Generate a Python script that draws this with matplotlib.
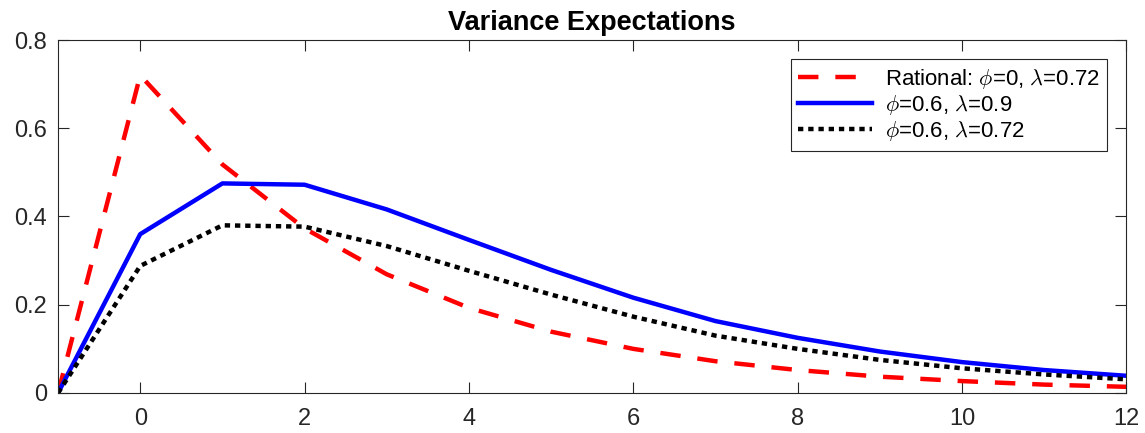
import matplotlib
matplotlib.use('Agg')
import matplotlib.pyplot as plt

# horizonte (periodos) y expectativas de varianza
horizon = [-1, 0, 1, 2, 3, 4, 5, 6, 7, 8, 9, 10, 11, 12]
rational = [0.0, 0.720, 0.518, 0.373, 0.269, 0.193, 0.139, 0.100, 0.072,
            0.052, 0.037, 0.027, 0.019, 0.014]
phi06_lam09 = [0.0, 0.360, 0.475, 0.472, 0.416, 0.347, 0.279, 0.216, 0.163,
               0.125, 0.094, 0.070, 0.052, 0.039]
phi06_lam072 = [0.0, 0.288, 0.380, 0.377, 0.333, 0.277, 0.223, 0.173, 0.130,
                0.100, 0.075, 0.056, 0.042, 0.031]

plt.rcParams['font.family'] = ['Liberation Sans', 'DejaVu Sans']
plt.rcParams['mathtext.fontset'] = 'cm'

fig = plt.figure(figsize=(11.45, 4.33), dpi=100)
ax = fig.add_axes([0.0507, 0.0924, 0.9330, 0.8152])

ax.plot(horizon, rational, color='#ff0000', linewidth=3.2, linestyle=(0, (4.6, 3.8)),
        label=r'Rational: $\phi$=0, $\lambda$=0.72')
ax.plot(horizon, phi06_lam09, color='#0000ff', linewidth=3.2,
        label=r'$\phi$=0.6, $\lambda$=0.9')
ax.plot(horizon, phi06_lam072, color='black', linewidth=3.2, linestyle=(0, (1.2, 1.1)),
        label=r'$\phi$=0.6, $\lambda$=0.72')

ax.set_xlim(-1, 12)
ax.set_ylim(0, 0.8)
ax.set_xticks([0, 2, 4, 6, 8, 10, 12])
ax.set_yticks([0, 0.2, 0.4, 0.6, 0.8])
ax.set_yticklabels(['0', '0.2', '0.4', '0.6', '0.8'])
ax.tick_params(direction='in', top=True, right=True, length=8, width=0.8,
               labelsize=17, colors='#262626')
ax.tick_params(axis='x', pad=11)
ax.tick_params(axis='y', pad=8)
for spine in ax.spines.values():
    spine.set_color('#262626')
    spine.set_linewidth(0.8)

ax.set_title('Variance Expectations', fontsize=19.5, fontweight='bold', pad=7)

leg = ax.legend(loc='upper right', fontsize=16, frameon=True, fancybox=False,
                edgecolor='#262626', framealpha=1, handlelength=3.3,
                borderaxespad=0.85, labelspacing=0.1, borderpad=0.35,
                handletextpad=0.6)
leg.get_frame().set_linewidth(0.8)

fig.savefig('out.png', dpi=100)
